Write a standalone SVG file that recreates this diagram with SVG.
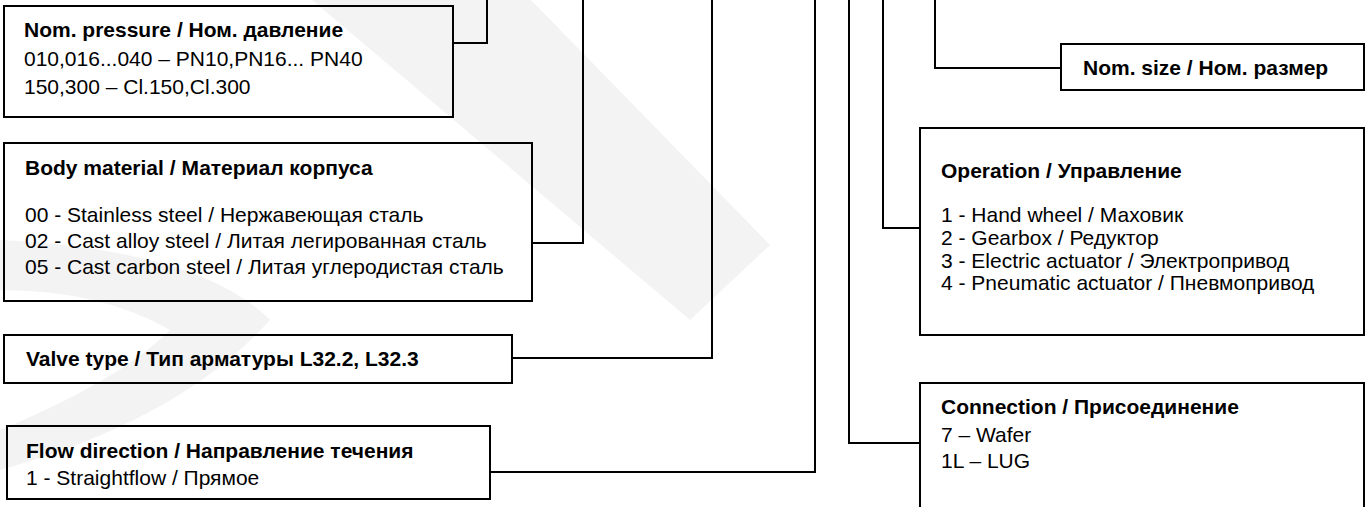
<svg xmlns="http://www.w3.org/2000/svg" width="1368" height="507" viewBox="0 0 1368 507">
<style>
.box{fill:none;stroke:#000;stroke-width:2}
.c{fill:none;stroke:#000;stroke-width:2}
.wm{fill:#f3f3f3;stroke:none}
text{font-family:"Liberation Sans",Arial,sans-serif;font-size:21px;fill:#000}
.t{font-weight:bold}
</style>
<rect width="1368" height="507" fill="#fff"/>
<g id="watermark">
<path class="wm" d="M312,0 L531,0 L770,245 L690,320 Z"/>
<path class="wm" d="M0,240 Q200,250 270,320 Q180,420 0,470 L0,430 Q120,380 170,330 Q100,290 0,290 Z"/>
</g>
<g id="connectors">
<polyline class="c" points="453,43 487,43 487,0"/>
<polyline class="c" points="532,243 583,243 583,0"/>
<polyline class="c" points="512,358 712,358 712,0"/>
<polyline class="c" points="490,472 815,472 815,0"/>
<polyline class="c" points="920,443 849,443 849,0"/>
<polyline class="c" points="920,228 883,228 883,0"/>
<polyline class="c" points="1061,68 935,68 935,0"/>
</g>
<g id="nom-pressure">
<rect class="box" x="4" y="6" width="449" height="111"/>
<text class="t" x="24" y="37">Nom. pressure / Ном. давление</text>
<text x="24" y="66">010,016...040 – PN10,PN16... PN40</text>
<text x="24" y="94">150,300  – Cl.150,Cl.300</text>
</g>
<g id="body-material">
<rect class="box" x="4" y="143" width="528" height="158"/>
<text class="t" x="25" y="175">Body material / Материал корпуса</text>
<text x="25" y="222">00 - Stainless steel / Нержавеющая сталь</text>
<text x="25" y="248">02 - Cast alloy steel / Литая легированная сталь</text>
<text x="25" y="274">05 - Cast carbon steel / Литая углеродистая сталь</text>
</g>
<g id="valve-type">
<rect class="box" x="4" y="335" width="508" height="48"/>
<text class="t" x="26" y="366">Valve type / Тип арматуры L32.2, L32.3</text>
</g>
<g id="flow-direction">
<rect class="box" x="7" y="426" width="483" height="73"/>
<text class="t" x="26" y="458">Flow direction / Направление течения</text>
<text x="26" y="485">1 - Straightflow / Прямое</text>
</g>
<g id="nom-size">
<rect class="box" x="1061" y="44" width="303" height="46"/>
<text class="t" x="1083" y="75">Nom. size / Ном. размер</text>
</g>
<g id="operation">
<rect class="box" x="920" y="128" width="444" height="207"/>
<text class="t" x="941" y="178">Operation / Управление</text>
<text x="941" y="222">1 - Hand wheel / Маховик</text>
<text x="941" y="245">2 - Gearbox / Редуктор</text>
<text x="941" y="268">3 - Electric actuator / Электропривод</text>
<text x="941" y="290">4 - Pneumatic actuator / Пневмопривод</text>
</g>
<g id="connection">
<rect class="box" x="920" y="383" width="444" height="140"/>
<text class="t" x="941" y="414">Connection / Присоединение</text>
<text x="941" y="442">7 – Wafer</text>
<text x="941" y="468">1L – LUG</text>
</g>
</svg>
